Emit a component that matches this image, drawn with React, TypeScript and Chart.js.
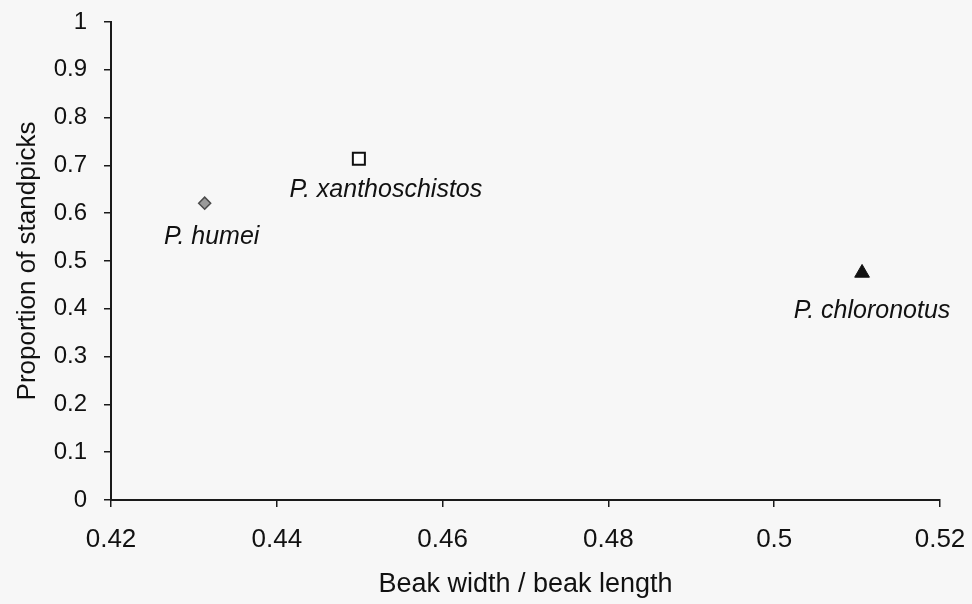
import React, { useEffect, useRef } from "react";
import { Chart, registerables } from "chart.js";

Chart.register(...registerables);

// ---- data ----
const species = ["P. humei", "P. xanthoschistos", "P. chloronotus"];
const beakRatio = [0.4313, 0.4499, 0.5106];
const standpickProportion = [0.621, 0.714, 0.475];

const xTickValues = [0.42, 0.44, 0.46, 0.48, 0.5, 0.52];
const xTickLabels = ["0.42", "0.44", "0.46", "0.48", "0.5", "0.52"];
const yTickValues = [0, 0.1, 0.2, 0.3, 0.4, 0.5, 0.6, 0.7, 0.8, 0.9, 1];
const yTickLabels = ["0", "0.1", "0.2", "0.3", "0.4", "0.5", "0.6", "0.7", "0.8", "0.9", "1"];

const xTitle = "Beak width / beak length";
const yTitle = "Proportion of standpicks";

// ---- styles ----
const markerStyles = [
  { pointStyle: "rectRot", radius: 6, bg: "#9a9a9a", border: "#4a4a4a", bw: 1.5 },
  { pointStyle: "rect", radius: 8.5, bg: "#ffffff", border: "#111111", bw: 2 },
  { pointStyle: "triangle", radius: 8.5, bg: "#111111", border: "#111111", bw: 1 },
];
const labelOffsets = [
  [7, 34],
  [27, 31],
  [10, 38],
];

const FONT = "'Liberation Sans', Arial, sans-serif";
const TEXT = "#111111";
const AXIS = "#1a1a1a";

export default function App() {
  const ref = useRef<HTMLCanvasElement | null>(null);

  useEffect(() => {
    if (!ref.current) return;

    const bgPlugin = {
      id: "bg",
      beforeDraw(chart: any) {
        const { ctx, width, height } = chart;
        ctx.save();
        ctx.fillStyle = "#f7f7f7";
        ctx.fillRect(0, 0, width, height);
        ctx.restore();
      },
    };

    const labelPlugin = {
      id: "pointLabels",
      afterDatasetsDraw(chart: any) {
        const { ctx } = chart;
        ctx.save();
        ctx.font = `italic 25px ${FONT}`;
        ctx.fillStyle = TEXT;
        ctx.textAlign = "center";
        ctx.textBaseline = "middle";
        chart.data.datasets.forEach((ds: any, i: number) => {
          const meta = chart.getDatasetMeta(i);
          const pt = meta.data[0];
          if (!pt) return;
          ctx.fillText(ds.label, pt.x + labelOffsets[i][0], pt.y + labelOffsets[i][1]);
        });
        ctx.restore();
      },
    };

    const datasets = species.map((name, i) => ({
      label: name,
      data: [{ x: beakRatio[i], y: standpickProportion[i] }],
      pointStyle: markerStyles[i].pointStyle as any,
      pointRadius: markerStyles[i].radius,
      pointBackgroundColor: markerStyles[i].bg,
      pointBorderColor: markerStyles[i].border,
      pointBorderWidth: markerStyles[i].bw,
      showLine: false,
    }));

    const chart = new Chart(ref.current, {
      type: "scatter",
      data: { datasets },
      options: {
        animation: false,
        responsive: false,
        events: [],
        layout: { padding: { left: 0, top: 22, right: 32, bottom: 0 } },
        plugins: {
          legend: { display: false },
          tooltip: { enabled: false },
        },
        scales: {
          x: {
            type: "linear",
            min: 0.42,
            max: 0.52,
            afterBuildTicks: (axis: any) => {
              axis.ticks = xTickValues.map((v) => ({ value: v }));
            },
            afterFit: (scale: any) => {
              scale.height = 104;
              scale.paddingLeft = 0;
              scale.paddingRight = 0;
              scale.paddingTop = 0;
              scale.paddingBottom = 0;
            },
            ticks: {
              autoSkip: false,
              maxRotation: 0,
              padding: 17,
              color: TEXT,
              font: { family: FONT, size: 26 },
              callback: (value: any) => xTickLabels[xTickValues.indexOf(Number(value))] ?? "",
            },
            grid: {
              display: true,
              drawOnChartArea: false,
              drawTicks: true,
              tickLength: 7,
              color: AXIS,
              lineWidth: 1.5,
            },
            border: { display: true, color: AXIS, width: 2 },
            title: {
              display: true,
              text: xTitle,
              color: TEXT,
              font: { family: FONT, size: 27 },
              padding: { top: 0, bottom: 3 },
            },
          },
          y: {
            type: "linear",
            min: 0,
            max: 1,
            afterBuildTicks: (axis: any) => {
              axis.ticks = yTickValues.map((v) => ({ value: v }));
            },
            afterFit: (scale: any) => {
              scale.width = 111;
              scale.paddingLeft = 0;
              scale.paddingRight = 0;
              scale.paddingTop = 0;
              scale.paddingBottom = 0;
            },
            ticks: {
              autoSkip: false,
              padding: 17,
              color: TEXT,
              font: { family: FONT, size: 24 },
              callback: (value: any) => {
                const idx = yTickValues.findIndex((v) => Math.abs(v - Number(value)) < 1e-9);
                return idx >= 0 ? yTickLabels[idx] : "";
              },
            },
            grid: {
              display: true,
              drawOnChartArea: false,
              drawTicks: true,
              tickLength: 7,
              color: AXIS,
              lineWidth: 1.5,
            },
            border: { display: true, color: AXIS, width: 2 },
            title: {
              display: true,
              text: yTitle,
              color: TEXT,
              font: { family: FONT, size: 26 },
              padding: { top: 12, bottom: 0 },
            },
          },
        },
      },
      plugins: [bgPlugin, labelPlugin],
    });

    return () => chart.destroy();
  }, []);

  return (
    <div style={{ position: "fixed", left: 0, top: 0, width: 972, height: 604 }}>
      <canvas ref={ref} width={972} height={604} style={{ display: "block" }} />
    </div>
  );
}
